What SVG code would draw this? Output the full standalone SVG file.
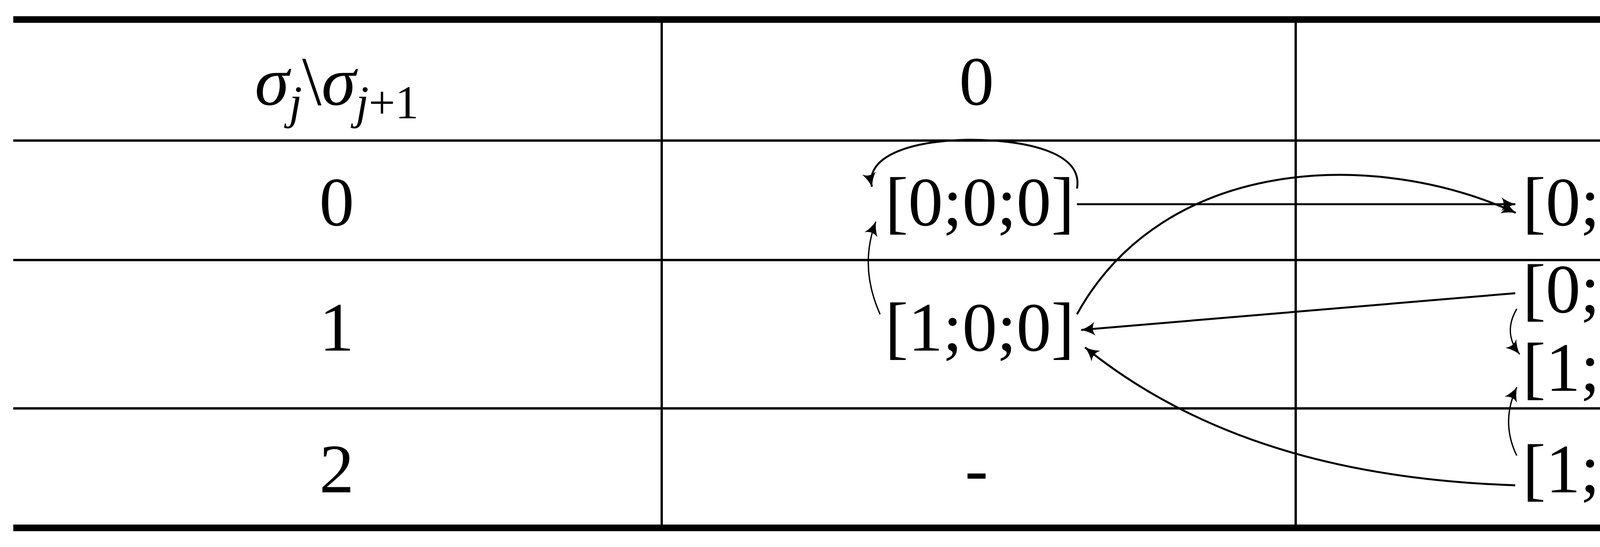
<svg xmlns="http://www.w3.org/2000/svg" width="6611" height="1401" viewBox="0 0 6611 1401">
<defs>
<style>
.t{font-family:"Liberation Serif","DejaVu Serif",serif;font-size:178px;text-anchor:middle;fill:#000}
.rule{stroke:#000;stroke-width:6}
.thick{stroke:#000;stroke-width:17}
.c{fill:none;stroke:#000;stroke-width:5}
.s{fill:none;stroke:#000;stroke-width:3.5}
</style>
<marker id="a" viewBox="0 0 20 20" refX="18" refY="10" markerWidth="44" markerHeight="44" markerUnits="userSpaceOnUse" orient="auto">
<path d="M2,2 Q10,8 19,10 Q10,12 2,18 Q7,10 2,2Z" fill="#000"/>
</marker>
</defs>
<rect width="6611" height="1401" fill="#fff"/>
<g id="table">
<line class="thick" x1="34" y1="50" x2="6577" y2="50"/>
<line class="thick" x1="34" y1="1352" x2="6577" y2="1352"/>
<line class="rule" x1="34" y1="360" x2="6577" y2="360"/>
<line class="rule" x1="34" y1="666" x2="6577" y2="666"/>
<line class="rule" x1="34" y1="1046" x2="6577" y2="1046"/>
<line class="rule" x1="1694" y1="58" x2="1694" y2="1344"/>
<line class="rule" x1="3317" y1="58" x2="3317" y2="1344"/>
<line class="rule" x1="4966" y1="58" x2="4966" y2="1344"/>
<text class="t" x="862" y="268"><tspan font-style="italic">σ</tspan><tspan font-style="italic" font-size="120" dy="35">j</tspan><tspan dy="-35">\</tspan><tspan font-style="italic">σ</tspan><tspan font-size="120" dy="35"><tspan font-style="italic">j</tspan>+1</tspan></text>
<text class="t" x="2500" y="268">0</text>
<text class="t" x="4140" y="268">1</text>
<text class="t" x="5787" y="268">2</text>
<text class="t" x="862" y="577">0</text>
<text class="t" x="862" y="898">1</text>
<text class="t" x="862" y="1261">2</text>
<text class="t" x="5787" y="577">-</text>
<text class="t" x="2500" y="1261">-</text>
</g>
<g id="n000"><text class="t" x="2508" y="577">[0;0;0]</text></g>
<g id="n100"><text class="t" x="2508" y="898">[1;0;0]</text></g>
<g id="n001"><text class="t" x="4140" y="577">[0;0;1]</text></g>
<g id="n010"><text class="t" x="4140" y="800">[0;1;0]</text></g>
<g id="n101"><text class="t" x="4140" y="1001">[1;0;1]</text></g>
<g id="n110"><text class="t" x="4140" y="1261">[1;1;0]</text></g>
<g id="n011"><text class="t" x="5789" y="898">[0;1;1]</text></g>
<g id="n111"><text class="t" x="5789" y="1261">[1;1;1]</text></g>
<g id="connectors">
<path class="c" marker-end="url(#a)" d="M2757,523 L3879,523"/>
<path class="c" marker-end="url(#a)" d="M2757,483 C2775,385 2610,358 2484,358 C2330,360 2215,400 2232,478"/>
<path class="s" marker-end="url(#a)" d="M2253,805 C2215,720 2215,640 2242,568"/>
<path class="c" marker-end="url(#a)" d="M2757,805 C2980,400 3520,380 3880,545"/>
<path class="c" marker-end="url(#a)" d="M3879,751 L2768,845"/>
<path class="c" marker-end="url(#a)" d="M3879,1243 C3500,1230 3100,1150 2778,890"/>
<path class="c" marker-end="url(#a)" d="M4404,490 C4900,500 5200,620 5530,805"/>
<path class="s" marker-end="url(#a)" d="M4398,563 C4425,610 4420,660 4404,706"/>
<path class="s" marker-end="url(#a)" d="M3883,791 C3860,830 3860,870 3890,907"/>
<path class="s" marker-end="url(#a)" d="M4398,907 C4415,870 4418,830 4408,794"/>
<path class="s" marker-end="url(#a)" d="M3883,1167 C3855,1110 3855,1050 3883,992"/>
<path class="c" marker-end="url(#a)" d="M4398,983 L5530,845"/>
<path class="c" marker-end="url(#a)" d="M5530,889 C5250,1450 4700,1290 4404,1180"/>
<path class="c" marker-end="url(#a)" d="M5530,1209 L4404,1209"/>
<path class="s" marker-end="url(#a)" d="M6044,889 C6090,960 6095,1080 6055,1162"/>
<path class="s" marker-end="url(#a)" d="M5530,1252 C5515,1340 5620,1372 5808,1372 C5990,1372 6085,1340 6066,1278"/>
</g>
</svg>
